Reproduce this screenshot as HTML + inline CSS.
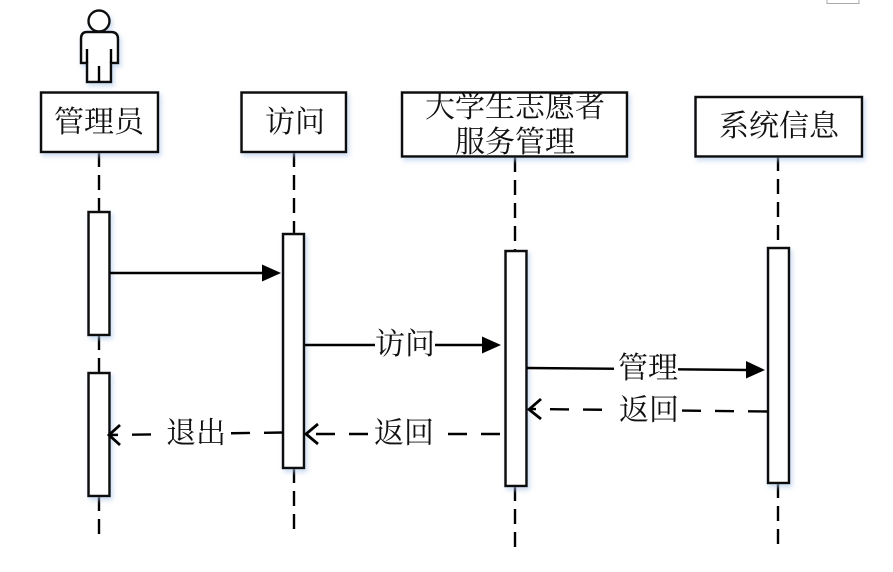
<!DOCTYPE html>
<html><head><meta charset="utf-8"><style>
html,body{margin:0;padding:0;background:#fff}
svg{display:block}
text{font-family:"Liberation Serif","Noto Serif CJK SC",serif;font-size:30px;fill:#111;text-anchor:middle}
.b{fill:#fff;stroke:#111;stroke-width:2.500}
.l{stroke:#000;stroke-width:2.400;fill:none}
.d{stroke-dasharray:19 14}
.v{stroke-dasharray:15 8}
.o{stroke:#000;stroke-width:2.800;fill:none}
</style></head><body>
<svg width="893" height="572" viewBox="0 0 893 572" xmlns="http://www.w3.org/2000/svg">
<defs><filter id="s" x="-20%" y="-20%" width="150%" height="150%"><feDropShadow dx="2" dy="3" stdDeviation="2.500" flood-color="#a9c4e8" flood-opacity=".6"/></filter></defs>
<path d="M827 0V3.500H859V0" fill="none" stroke="#aaa" stroke-width="1"/>
<!-- lifelines -->
<path class="l v" d="M99 152V212M294 152V234M515 157V251M778 156V248M99 335V373"/>
<path class="l v" d="M99 496V535M294 468V532M515 486V547M778 483V547"/>
<!-- actor -->
<g filter="url(#s)">
<circle cx="99" cy="21" r="10.500" fill="#fff" stroke="#111" stroke-width="2.400"/>
<path class="b" d="M87 32H111Q118 32 118 39V63H111V82H87V63H81V39Q81 32 87 32Z"/>
</g>
<path class="l" d="M87 49V63M111 49V63M99 66V82"/>
<!-- heads -->
<g filter="url(#s)">
<rect class="b" x="41" y="92.500" width="117" height="59.500"/>
<rect class="b" x="241.500" y="92.500" width="104.500" height="59.500"/>
<rect class="b" x="402" y="92.500" width="225" height="64"/>
<rect class="b" x="695.500" y="97" width="166.500" height="59.500"/>
<rect class="b" x="88.500" y="212" width="21" height="123"/>
<rect class="b" x="88.500" y="373" width="21" height="123"/>
<rect class="b" x="283" y="234" width="21" height="234"/>
<rect class="b" x="505.500" y="251" width="21" height="235"/>
<rect class="b" x="768" y="248" width="21" height="235"/>
</g>
<text x="99" y="132">管理员</text>
<text x="295" y="132">访问</text>
<text x="515" y="117">大学生志愿者</text>
<text x="515" y="152">服务管理</text>
<text x="779" y="136">系统信息</text>
<!-- arrows -->
<path class="l" d="M110 273H264"/><path d="M262 264.500L281 273L262 281.500Z" fill="#000"/>
<path class="l" d="M305 345H484"/><path d="M482 336.500L501 345L482 353.500Z" fill="#000"/>
<path class="l" d="M527 368L748 370"/><path d="M746 361L765 370L746 378.500Z" fill="#000"/>
<path class="l d" d="M767 411.500L530 409"/><path class="o" d="M541 399L529 409.500L541 419"/>
<path class="l d" d="M500 434H307"/><path class="o" d="M318 424L306 434L318 444"/>
<path class="l d" d="M283 432.500L109 435"/><path class="o" d="M120 425L109 435L120 445"/>
<!-- labels -->
<rect x="375" y="330" width="60" height="30" fill="#fff"/><text x="405" y="354">访问</text>
<rect x="614" y="353" width="64" height="30" fill="#fff"/><text x="648" y="378">管理</text>
<rect x="616" y="395" width="64" height="30" fill="#fff"/><text x="649" y="420">返回</text>
<rect x="373" y="419" width="62" height="30" fill="#fff"/><text x="404" y="443">返回</text>
<rect x="164" y="419" width="62" height="30" fill="#fff"/><text x="196" y="443">退出</text>
</svg>
</body></html>
